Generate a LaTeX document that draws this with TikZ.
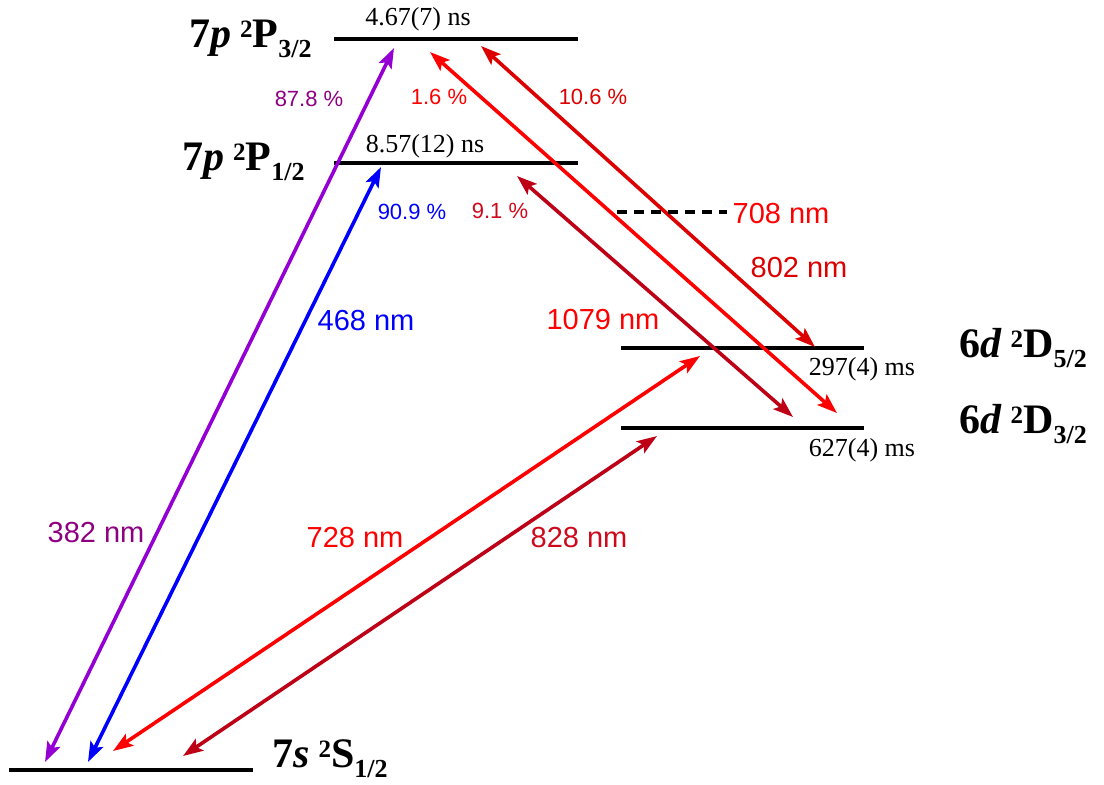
\documentclass[tikz,border=0pt]{standalone}
\usepackage{fontspec}
\setmainfont{Liberation Sans}
\newfontfamily\tnr{Liberation Serif}
\usetikzlibrary{arrows.meta}
\definecolor{cpurple}{RGB}{148,0,211}
\definecolor{cpurpletxt}{RGB}{142,0,130}
\definecolor{cblue}{RGB}{0,0,255}
\definecolor{cred}{RGB}{255,0,0}
\definecolor{cmred}{RGB}{220,0,0}
\definecolor{cdred}{RGB}{190,0,22}
\definecolor{cdredtxt}{RGB}{205,10,28}
\newcommand\lvlab[4]{{\tnr\fontsize{42}{46}\selectfont\bfseries #1\textit{#2}\hspace{9pt}\raisebox{10pt}{\fontsize{25}{25}\selectfont 2}#3\raisebox{-10pt}{\fontsize{26}{26}\selectfont #4}}}
\tikzset{
  lvl/.style={line width=3.5pt},
  arr/.style={line width=3.6pt, {Stealth[length=20pt,width=14pt,inset=4pt]}-{Stealth[length=20pt,width=14pt,inset=4pt]}},
  lab/.style={font=\fontsize{29}{32}\selectfont, inner sep=0pt},
  pct/.style={font=\fontsize{22}{26}\selectfont, inner sep=0pt},
  life/.style={font=\tnr\fontsize{26}{30}\selectfont, inner sep=0pt, anchor=base},
  lvltxt/.style={inner sep=0pt, anchor=base west}
}
\begin{document}
\begin{tikzpicture}[x=1pt,y=-1pt]
\useasboundingbox (0,0) rectangle (1104,785);
% levels
\coordinate (p3a) at (334,39); \coordinate (p3b) at (578,39);
\coordinate (p1a) at (334,163); \coordinate (p1b) at (578,163);
\coordinate (d5a) at (621,348); \coordinate (d5b) at (864,348);
\coordinate (d3a) at (621,428); \coordinate (d3b) at (864,428);
\coordinate (sa) at (9,770); \coordinate (sb) at (253,770);
\draw[lvl] (p3a) -- (p3b);
\draw[lvl] (p1a) -- (p1b);
\draw[lvl] (d5a) -- (d5b);
\draw[lvl] (d3a) -- (d3b);
\draw[lvl] (sa) -- (sb);
% level labels
\node[lvltxt] (lp3) at (189,47) {\lvlab{7}{p}{P}{3/2}};
\node[lvltxt] (lp1) at (182,170) {\lvlab{7}{p}{P}{1/2}};
\node[lvltxt] (ld5) at (959,357) {\lvlab{6}{d}{D}{5/2}};
\node[lvltxt] (ld3) at (959,433) {\lvlab{6}{d}{D}{3/2}};
\node[lvltxt] (ls) at (272,767) {\lvlab{7}{s}{S}{1/2}};
% lifetimes
\node[life] (t1) at (418,25) {4.67(7) ns};
\node[life] (t2) at (425,152) {8.57(12) ns};
\node[life] (t3) at (862,375) {297(4) ms};
\node[life] (t4) at (862,456) {627(4) ms};
% arrow ends
\coordinate (a382s) at (45,762); \coordinate (a382p) at (394,48);
\coordinate (a468s) at (88,762); \coordinate (a468p) at (381,167);
\coordinate (a728s) at (113,751); \coordinate (a728d) at (700,356);
\coordinate (a828s) at (183,756); \coordinate (a828d) at (657,436);
\coordinate (a802p) at (430,52); \coordinate (a802d) at (837,413);
\coordinate (a708p) at (481,46); \coordinate (a708d) at (815,347);
\coordinate (a1079p) at (517,176); \coordinate (a1079d) at (793,417);
\draw[arr, cpurple] (a382s) -- (a382p);
\draw[arr, cblue] (a468s) -- (a468p);
\draw[arr, cred] (a728s) -- (a728d);
\draw[arr, cdred] (a828s) -- (a828d);
\draw[arr, cred] (a802p) -- (a802d);
\draw[arr, cmred] (a708p) -- (a708d);
\draw[arr, cdred] (a1079p) -- (a1079d);
% dashed line
\coordinate (dsa) at (617,212); \coordinate (dsb) at (727,212);
\draw[line width=4pt, dash pattern=on 10pt off 7pt] (dsa) -- (dsb);
% labels
\node[pct, text=cpurpletxt] (q1) at (309,99) {87.8 \%};
\node[pct, text=cred] (q2) at (439,97) {1.6 \%};
\node[pct, text=cmred] (q3) at (593,97) {10.6 \%};
\node[pct, text=cblue] (q4) at (412,212) {90.9 \%};
\node[pct, text=cdredtxt] (q5) at (500,211) {9.1 \%};
\node[lab, text=cred] (w708) at (781,214) {708 nm};
\node[lab, text=cmred] (w802) at (799,268) {802 nm};
\node[lab, text=cred] (w1079) at (603,320) {1079 nm};
\node[lab, text=cblue] (w468) at (366,321) {468 nm};
\node[lab, text=cpurpletxt] (w382) at (96,533) {382 nm};
\node[lab, text=cred] (w728) at (355,538) {728 nm};
\node[lab, text=cdredtxt] (w828) at (579,538) {828 nm};
\end{tikzpicture}
\end{document}
